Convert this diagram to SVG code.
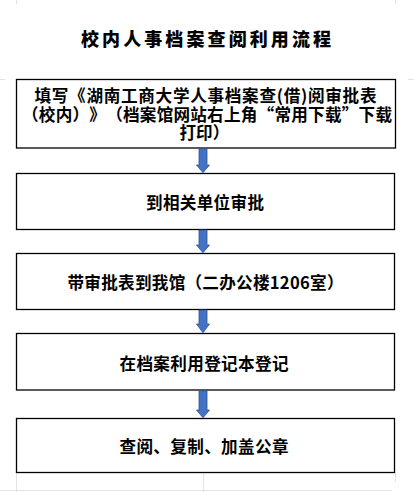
<svg xmlns="http://www.w3.org/2000/svg" width="414" height="492" viewBox="0 0 414 492">
<style>
.box{fill:#fff;stroke:#000;stroke-width:1.3}
.t{font-family:"Noto Sans CJK SC","Noto Sans CJK JP",sans-serif;font-weight:700;font-size:16.6px;fill:#000;text-spacing-trim:space-all}
.title{font-family:"Noto Sans CJK SC","Noto Sans CJK JP",sans-serif;font-weight:900;font-size:18px;fill:#000}
.arr{fill:#4472C4;stroke:#2F528F;stroke-width:0.8}
.grid{stroke:#e3e3e3;stroke-width:1;fill:none}
</style>
<rect width="414" height="492" fill="#fff"/>
<g id="grid">
<path class="grid" d="M16.5 0V4M395.5 0V4M0 79.5H5M408 79.5H414M16.5 472V492M203.5 472V492M395.5 472V482M0 490.5H392"/>
</g>
<g id="title"><text class="title" x="81" y="46" textLength="250" lengthAdjust="spacing">校内人事档案查阅利用流程</text></g>
<g id="node1">
<rect class="box" x="16.5" y="79.5" width="379" height="68.5"/>
<text class="t" x="34.5" y="102" textLength="342" lengthAdjust="spacing">填写《湖南工商大学人事档案查(借)阅审批表</text>
<text class="t" x="22" y="120.5" textLength="370" lengthAdjust="spacing">（校内）》（档案馆网站右上角“常用下载”下载</text>
<text class="t" x="179.5" y="139">打印）</text>
</g>
<g id="node2">
<rect class="box" x="16.5" y="173.5" width="378" height="56"/>
<text class="t" x="146" y="208.5" textLength="118" lengthAdjust="spacing">到相关单位审批</text>
</g>
<g id="node3">
<rect class="box" x="16.5" y="253.5" width="378" height="56"/>
<text class="t" x="67.5" y="288.5" textLength="276" lengthAdjust="spacing">带审批表到我馆（二办公楼1206室）</text>
</g>
<g id="node4">
<rect class="box" x="16.5" y="333.5" width="378" height="56.5"/>
<text class="t" x="119.5" y="370" textLength="169" lengthAdjust="spacing">在档案利用登记本登记</text>
</g>
<g id="node5">
<rect class="box" x="16.5" y="418.5" width="378" height="54"/>
<text class="t" x="119.5" y="452.5" textLength="169" lengthAdjust="spacing">查阅、复制、加盖公章</text>
</g>
<g id="connectors">
<path class="arr" d="M199 148.7H207V165H209.5L203 172.7L196.5 165H199Z"/>
<path class="arr" d="M199 230H207V245H209.5L203 252.8L196.5 245H199Z"/>
<path class="arr" d="M199 310H207V324H209.5L203 332.8L196.5 324H199Z"/>
<path class="arr" d="M199 390.7H207V410H209.5L203 417.8L196.5 410H199Z"/>
</g>
</svg>
